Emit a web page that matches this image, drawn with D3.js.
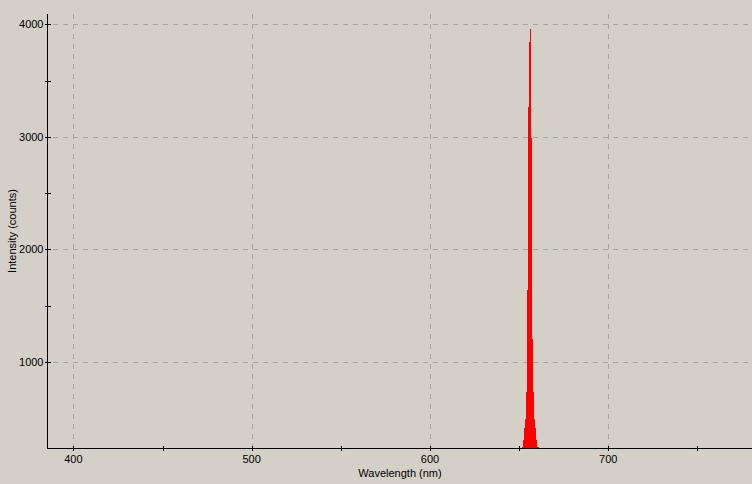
<!DOCTYPE html>
<html>
<head>
<meta charset="utf-8">
<script src="https://cdn.jsdelivr.net/npm/d3@7"></script>
<style>
body { margin:0; background:#d4d0c8; }
svg { display:block; background:#d4d0c8; }
text { font-family: "Liberation Sans", Arial, sans-serif; font-size:11px; fill:#000; }
</style>
</head>
<body>
<svg id="chart" width="752" height="484"></svg>
<script>
// spectrum around the H-alpha line
var wavelength = [651.04, 651.60, 652.16, 652.72, 653.29, 653.84, 654.40, 654.96, 655.52, 656.09,
                  656.65, 657.21, 657.77, 658.33, 658.89, 659.45, 660.01, 660.57, 661.13];
var counts     = [200, 240, 300, 409, 492, 729, 1642, 3265, 3844, 3960,
                  2990, 1199, 729, 492, 409, 300, 240, 240, 200];

var xMajor = [400, 500, 600, 700];
var xMinor = [450, 550, 650, 750];
var yMajor = [1000, 2000, 3000, 4000];
var yMinor = [1500, 2500, 3500];

var svg = d3.select("#chart");
var pLeft = 47.5, pRight = 752.7, pTop = 14, pBottom = 448.5;

var x = d3.scaleLinear().domain([385.5, 781]).range([pLeft, pRight]);
var y = d3.scaleLinear().domain([228, 4093]).range([pBottom, pTop]);

var data = wavelength.map(function(w, i){ return {w: w, c: counts[i]}; });

svg.append("clipPath").attr("id", "plotclip")
  .append("rect").attr("x", pLeft).attr("y", pTop).attr("width", pRight - pLeft).attr("height", pBottom - pTop);

// grid
var grid = svg.append("g").attr("stroke", "#a4a4a4").attr("stroke-dasharray", "5,5").attr("shape-rendering", "crispEdges");
grid.selectAll(".gx").data(xMajor).enter().append("line")
  .attr("x1", function(d){ return Math.round(x(d)) + 0.5; })
  .attr("x2", function(d){ return Math.round(x(d)) + 0.5; })
  .attr("y1", pTop).attr("y2", pBottom);
grid.selectAll(".gy").data(yMajor).enter().append("line")
  .attr("y1", function(d){ return Math.round(y(d)) + 0.5; })
  .attr("y2", function(d){ return Math.round(y(d)) + 0.5; })
  .attr("x1", pLeft + 5).attr("x2", 752);

// spectrum
var area = d3.area()
  .curve(d3.curveStepAfter)
  .x(function(d){ return x(d.w); })
  .y0(y(0))
  .y1(function(d){ return y(d.c); });

svg.append("path").datum(data)
  .attr("clip-path", "url(#plotclip)")
  .attr("d", area)
  .attr("fill", "#ff0000")
  .attr("shape-rendering", "crispEdges");

// axes
var ax = svg.append("g").attr("stroke", "#000").attr("shape-rendering", "crispEdges");
ax.append("line").attr("x1", pLeft).attr("x2", pLeft).attr("y1", pTop).attr("y2", pBottom + 0.5);
ax.append("line").attr("x1", pLeft).attr("x2", 752).attr("y1", pBottom).attr("y2", pBottom);

ax.selectAll(".tx").data(xMajor.concat(xMinor)).enter().append("line")
  .attr("x1", function(d){ return Math.round(x(d)) + 0.5; })
  .attr("x2", function(d){ return Math.round(x(d)) + 0.5; })
  .attr("y1", pBottom - 3).attr("y2", pBottom + 2.5);
ax.selectAll(".ty").data(yMajor.concat(yMinor)).enter().append("line")
  .attr("y1", function(d){ return Math.round(y(d)) + 0.5; })
  .attr("y2", function(d){ return Math.round(y(d)) + 0.5; })
  .attr("x1", pLeft - 2.5).attr("x2", pLeft + 3);

// tick labels
svg.selectAll(".lx").data(xMajor).enter().append("text")
  .attr("x", function(d){ return x(d); })
  .attr("y", 463)
  .attr("text-anchor", "middle")
  .text(function(d){ return d; });
svg.selectAll(".ly").data(yMajor).enter().append("text")
  .attr("x", 43.5)
  .attr("y", function(d){ return y(d) + 4; })
  .attr("text-anchor", "end")
  .text(function(d){ return d; });

// axis titles
svg.append("text").attr("x", 400).attr("y", 477).attr("text-anchor", "middle").text("Wavelength (nm)");
svg.append("text").attr("transform", "translate(16,231) rotate(-90)").attr("text-anchor", "middle").text("Intensity (counts)");
</script>
</body>
</html>
